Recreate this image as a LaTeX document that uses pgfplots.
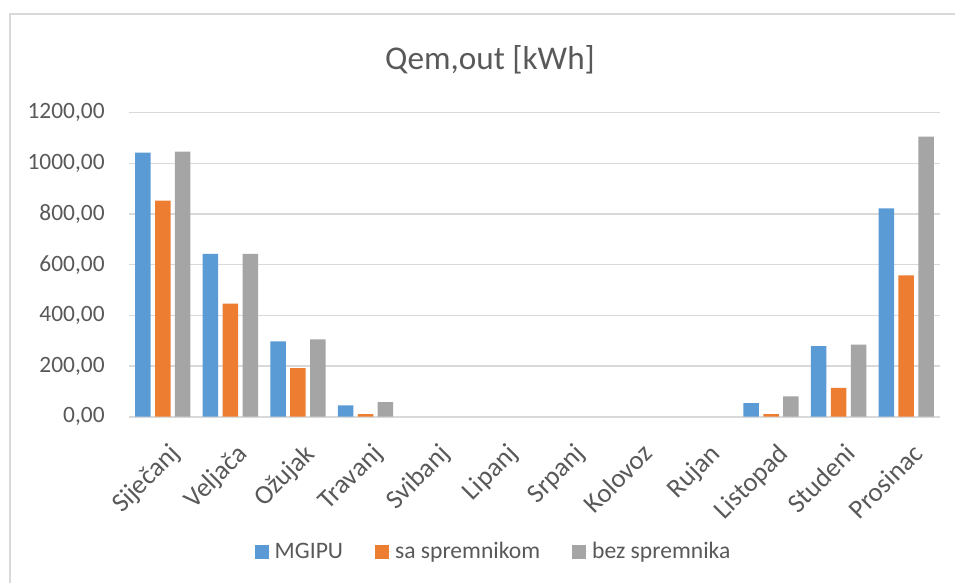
\documentclass[border=0pt]{standalone}
\usepackage{pgfplots}
\pgfplotsset{compat=1.18}
\usepackage{fontspec}
\setmainfont{Carlito}
\definecolor{cblue}{RGB}{91,155,213}
\definecolor{corange}{RGB}{237,125,49}
\definecolor{cgray}{RGB}{165,165,165}
\definecolor{ctext}{RGB}{89,89,89}
\definecolor{cgrid}{RGB}{217,217,217}
\pgfplotstableread{
x y
0 1042
1 643
2 297
3 45
4 0
5 0
6 0
7 0
8 0
9 54
10 279
11 822
}\mgipu
\pgfplotstableread{
x y
0 853
1 446
2 192
3 10.5
4 0
5 0
6 0
7 0
8 0
9 10
10 114
11 558
}\saspr
\pgfplotstableread{
x y
0 1046
1 643
2 305
3 58
4 0
5 0
6 0
7 0
8 0
9 80
10 284
11 1106
}\bezspr
\begin{document}
\begin{tikzpicture}
\useasboundingbox (0,0) rectangle (477.5pt,291.5pt);
\fill[white] (0,0) rectangle (477.5pt,291.5pt);
\draw[cgrid, line width=0.75pt] (5pt,-3pt) -- (5pt,284.5pt) -- (481pt,284.5pt);
\node[font=\fontsize{16.6}{20}\selectfont, text=ctext] at (245pt,261.5pt) {Qem,out [kWh]};
\begin{axis}[
  at={(64.5pt,83.15pt)}, anchor=south west,
  scale only axis, width=405.5pt, height=152pt,
  ybar=2.2pt, bar width=7.75pt,
  ymin=0, ymax=1200, ytick={0,200,...,1200},
  xmin=-0.5, xmax=11.5, xtick={0,...,11},
  xticklabels={Siječanj,Veljača,Ožujak,Travanj,Svibanj,Lipanj,Srpanj,Kolovoz,Rujan,Listopad,Studeni,Prosinac},
  axis x line*=bottom, axis y line*=left,
  y axis line style={draw=none},
  x axis line style={cgrid, line width=0.9pt},
  major tick length=0pt,
  ymajorgrids, grid style={cgrid, line width=0.65pt},
  tick label style={font=\fontsize{11.7}{14}\selectfont, text=ctext},
  /pgf/number format/assume math mode=true,
  yticklabel style={/pgf/number format/fixed, /pgf/number format/fixed zerofill, /pgf/number format/precision=2, /pgf/number format/use comma, /pgf/number format/1000 sep={}, anchor=east, inner sep=0pt, xshift=-12pt},
  xticklabel style={font=\fontsize{13.4}{16}\selectfont, xshift=2.5pt, yshift=-12.5pt, rotate=45, anchor=north east, inner sep=0pt},
  legend style={at={(0.4507,-0.445)}, anchor=center, draw=none, fill=none, legend columns=-1, font=\fontsize{11.8}{14}\selectfont, text=ctext, /tikz/every even column/.append style={column sep=14pt}},
  legend image code/.code={\fill[#1] (0pt,-3.5pt) rectangle (7pt,3.5pt); \path (0pt,0pt) -- (8pt,0pt);},
  y filter/.expression={y==0 ? nan : y},
  unbounded coords=discard,
  clip=false,
]
\addplot[fill=cblue, draw=none] table[x=x,y=y] {\mgipu};
\addplot[fill=corange, draw=none] table[x=x,y=y] {\saspr};
\addplot[fill=cgray, draw=none] table[x=x,y=y] {\bezspr};
\legend{MGIPU, sa spremnikom, bez spremnika}
\end{axis}
\end{tikzpicture}
\end{document}
